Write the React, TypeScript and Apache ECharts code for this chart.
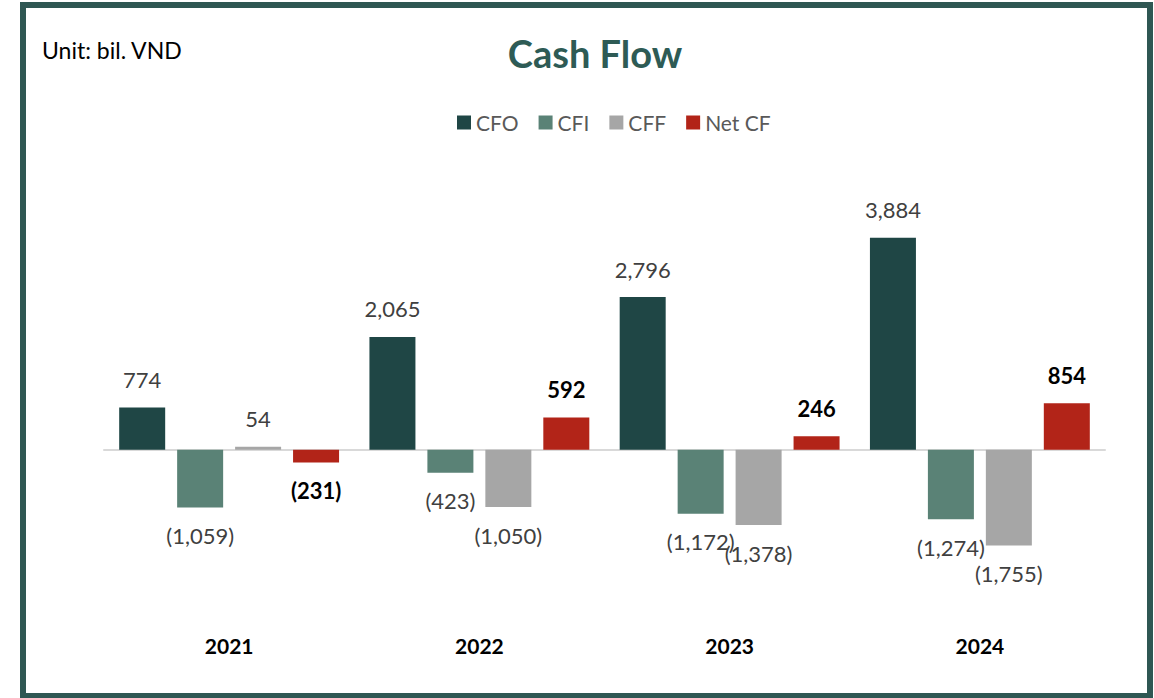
import React, { useEffect, useRef } from "react";
import * as echarts from "echarts";

const years = ["2021", "2022", "2023", "2024"];
const cfo = [774, 2065, 2796, 3884];
const cfi = [-1059, -423, -1172, -1274];
const cff = [54, -1050, -1378, -1755];
const netCf = [-231, 592, 246, 854];
const seriesNames = ["CFO", "CFI", "CFF", "Net CF"];
const colors = ["#1f4645", "#5a8276", "#a6a6a6", "#b22418"];

const fmt = (v: number) => {
  const s = Math.abs(v).toLocaleString("en-US");
  return v < 0 ? `(${s})` : s;
};

export default function App() {
  const ref = useRef<HTMLDivElement>(null);
  useEffect(() => {
    if (!ref.current) return;
    const chart = echarts.init(ref.current, undefined, { renderer: "svg" });
    const font = "Lato, 'Noto Sans', sans-serif";
    const dataSets = [cfo, cfi, cff, netCf];
    const series = dataSets.map((d, i) => ({
      name: seriesNames[i],
      type: "bar",
      xAxisIndex: 0,
      barWidth: 46,
      barGap: "26%",
      itemStyle: { color: colors[i] },
      data: d.map((v) => ({
        value: v,
        label: { position: v >= 0 ? "top" : "bottom" },
      })),
      label: {
        show: true,
        distance: 17,
        formatter: (p: any) => fmt(p.value),
        fontFamily: font,
        fontSize: 22,
        color: i === 3 ? "#000000" : "#404040",
        fontWeight: i === 3 ? "bold" : "normal",
      },
    }));
    chart.setOption({
      animation: false,
      backgroundColor: "#ffffff",
      title: {
        text: "Cash Flow",
        left: 590,
        top: 29,
        textAlign: "center",
        textStyle: { fontFamily: font, fontSize: 38, fontWeight: "bold", color: "#2e5b55" },
      },
      legend: {
        data: seriesNames,
        left: 452,
        top: 107,
        itemWidth: 14,
        itemHeight: 14,
        itemGap: 20,
        icon: "rect",
        textStyle: { fontFamily: font, fontSize: 21, color: "#595959" },
      },
      grid: { left: 104, right: 49, top: 204, bottom: 139 },
      xAxis: [
        {
          type: "category",
          data: years,
          position: "bottom",
          axisLine: { show: false, onZero: false },
          axisTick: { show: false },
          axisLabel: { margin: 76, fontFamily: font, fontSize: 21, fontWeight: "bold", color: "#000000" },
        },
        {
          type: "category",
          data: years,
          position: "bottom",
          axisLine: { show: true, onZero: true, lineStyle: { color: "#d9d9d9", width: 2 } },
          axisTick: { show: false },
          axisLabel: { show: false },
        },
      ],
      yAxis: {
        type: "value",
        min: -2000,
        max: 4500,
        show: false,
        splitLine: { show: false },
      },
      graphic: [
        {
          type: "rect",
          shape: { x: 23, y: 5, width: 1127, height: 691 },
          style: { fill: "none", stroke: "#2f5753", lineWidth: 6 },
          z: 100,
        },
        {
          type: "text",
          left: 42,
          top: 38,
          style: { text: "Unit: bil. VND", fontFamily: font, fontSize: 23, fill: "#000000" },
        },
      ],
      series,
    });
    return () => chart.dispose();
  }, []);
  return (
    <div
      ref={ref}
      style={{ position: "fixed", left: 0, top: 0, width: 1154, height: 698 }}
    />
  );
}
